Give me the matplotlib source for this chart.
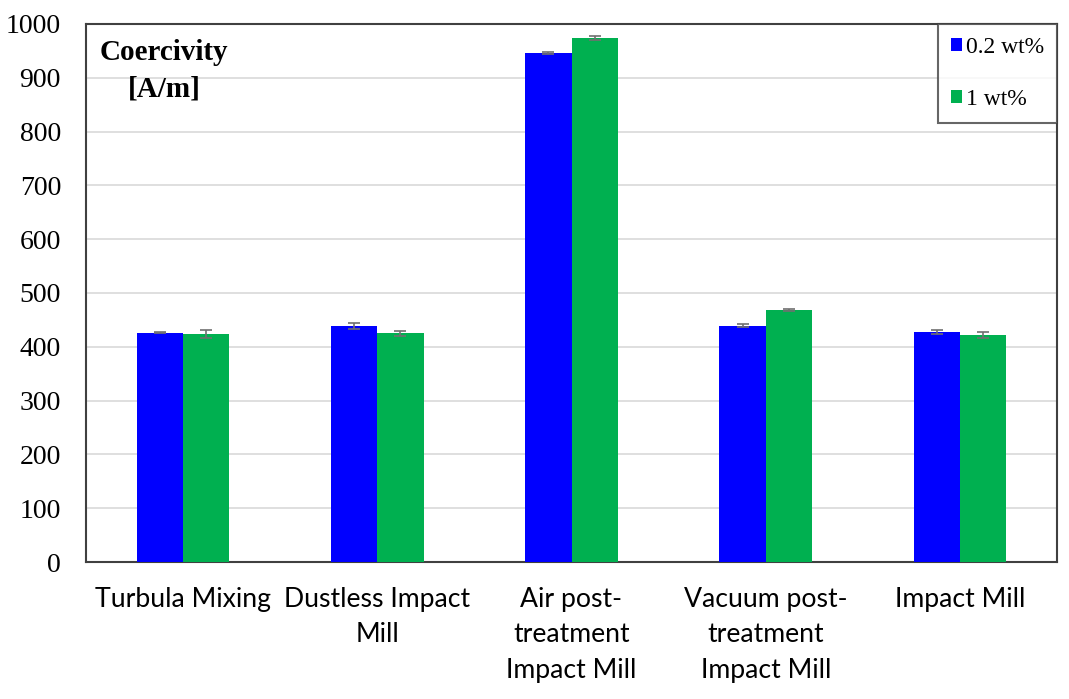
import matplotlib
matplotlib.use("Agg")
import matplotlib.pyplot as plt
import numpy as np

categories = ["Turbula Mixing", "Dustless Impact\nMill", "Air post-\ntreatment\nImpact Mill",
              "Vacuum post-\ntreatment\nImpact Mill", "Impact Mill"]
series_names = ["0.2 wt%", "1 wt%"]
vals_02 = [426, 439, 946, 439, 428]
err_02 = [1, 6, 2, 3, 4]
vals_1 = [424, 425, 974, 468, 422]
err_1 = [7, 5, 4, 2, 6]
yticks = list(range(0, 1001, 100))

fig = plt.figure(figsize=(10.69, 6.99), dpi=100)
ax = fig.add_axes([86/1069, 1-562/699, (1057-86)/1069, (562-24)/699])

x = np.arange(len(categories))
w = 0.238
ekw = dict(ecolor="#707070", elinewidth=1.2, capsize=4, capthick=1.2)
ax.bar(x - w/2, vals_02, w, color="#0000FF", yerr=err_02, error_kw=ekw, label=series_names[0], zorder=3)
ax.bar(x + w/2, vals_1, w, color="#00B050", yerr=err_1, error_kw=ekw, label=series_names[1], zorder=3)

ax.set_xlim(-0.5, len(categories) - 0.5)
ax.set_ylim(0, 1000)
ax.set_yticks(yticks)
ax.set_yticklabels([str(t) for t in yticks], fontfamily="Liberation Serif", fontsize=20)
ax.set_xticks(x)
ax.set_xticklabels(categories, fontfamily="Lato", fontsize=19.2, linespacing=1.52)
ax.tick_params(axis="both", length=0)
ax.tick_params(axis="y", pad=18)
ax.tick_params(axis="x", pad=18)
ax.grid(axis="y", color="#D9D9D9", linewidth=1.2, zorder=0)
for s in ax.spines.values():
    s.set_color("#404040")
    s.set_linewidth(1.5)

ax.text(164, 699-60, "Coercivity", transform=None, fontfamily="Liberation Serif",
        fontweight="bold", fontsize=21, ha="center", va="baseline")
ax.text(164, 699-97, "[A/m]", transform=None, fontfamily="Liberation Serif",
        fontweight="bold", fontsize=21, ha="center", va="baseline")

leg = ax.legend(loc="upper right", bbox_to_anchor=(1.0, 1.0), borderaxespad=0,
                prop={"family": "Liberation Serif", "size": 17}, frameon=True, fancybox=False,
                handlelength=0.47, handleheight=0.47, handletextpad=0.15, labelspacing=1.3,
                borderpad=0.55)
leg.get_frame().set_edgecolor("#404040")
leg.get_frame().set_linewidth(1.5)

fig.savefig("out.png", dpi=100)
